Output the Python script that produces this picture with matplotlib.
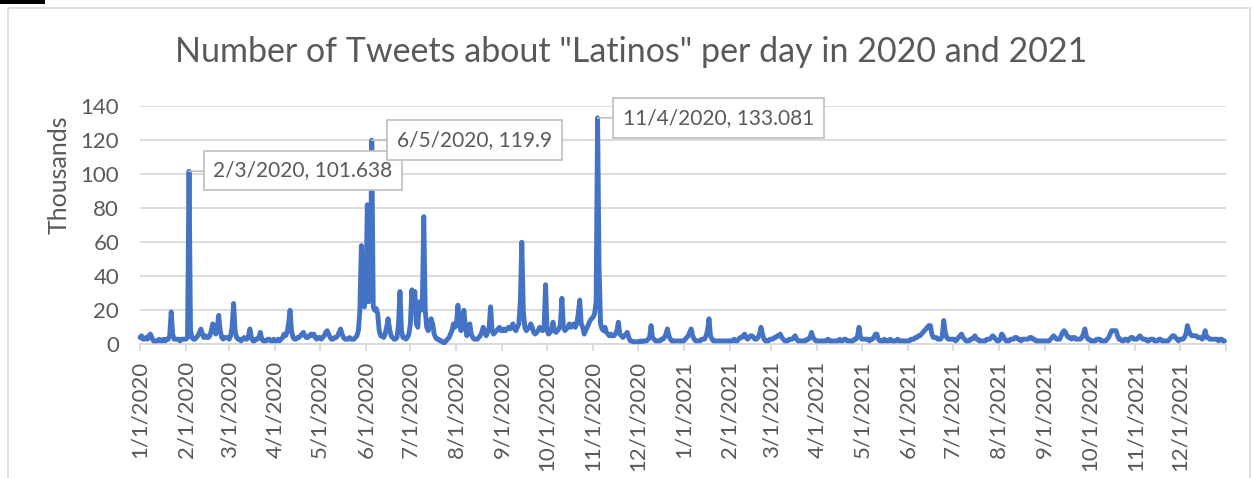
import matplotlib
matplotlib.use('Agg')
import matplotlib.pyplot as plt
import matplotlib.dates as mdates
from matplotlib.patches import Rectangle
import pandas as pd

# ---------------- data (thousands of tweets per day) ----------------
jan20 = [4, 5, 3, 3, 4, 3, 5, 6, 4, 2,
         2, 2, 2, 3, 2, 2, 3, 2, 3, 3,
         5, 19, 6, 3, 3, 3, 3, 2, 3, 3,
         3]
feb20 = [3, 4, 101.638, 8, 4, 3, 3, 4, 5, 7,
         9, 6, 4, 5, 4, 4, 5, 8, 12, 9,
         6, 10, 17, 8, 4, 3, 4, 4, 4]
mar20 = [3, 5, 10, 24, 8, 4, 3, 3, 2, 3,
         4, 3, 3, 5, 9, 4, 2, 2, 3, 3,
         4, 7, 3, 2, 2, 2, 3, 3, 2, 2,
         3]
apr20 = [2, 2, 3, 2, 3, 4, 6, 5, 7, 12,
         20, 8, 4, 3, 3, 4, 4, 5, 6, 7,
         5, 4, 4, 5, 6, 5, 6, 4, 3, 4]
may20 = [4, 3, 4, 5, 7, 8, 6, 4, 3, 3,
         4, 4, 5, 7, 9, 6, 4, 3, 3, 3,
         4, 3, 3, 3, 4, 5, 8, 20, 58, 24,
         22]
jun20 = [28, 82, 25, 28, 119.9, 22, 20, 21, 18, 8,
         5, 5, 4, 6, 10, 15, 9, 5, 4, 3,
         3, 4, 12, 31, 8, 4, 4, 3, 4, 6]
jul20 = [12, 32, 20, 31, 12, 10, 25, 20, 22, 75,
         20, 10, 8, 12, 15, 12, 6, 4, 3, 3,
         2, 2, 1, 1, 2, 3, 4, 6, 8, 12,
         10]
aug20 = [12, 23, 12, 8, 12, 20, 10, 5, 8, 12,
         6, 4, 3, 3, 3, 4, 5, 7, 10, 8,
         5, 7, 10, 22, 8, 6, 7, 8, 9, 10,
         8]
sep20 = [8, 9, 8, 9, 10, 9, 10, 12, 9, 8,
         10, 12, 25, 60, 20, 10, 8, 9, 10, 12,
         10, 7, 6, 7, 8, 10, 9, 8, 10, 35]
oct20 = [8, 6, 7, 8, 13, 8, 7, 8, 9, 12,
         27, 10, 8, 9, 10, 12, 10, 11, 12, 10,
         12, 18, 26, 12, 10, 6, 8, 10, 12, 14,
         15]
nov20 = [16, 18, 25, 133.081, 45, 12, 9, 8, 10, 7,
         6, 5, 6, 5, 5, 6, 8, 13, 6, 5,
         4, 5, 6, 7, 4, 2, 2, 1.5, 1.5, 1.5]
dec20 = [1.5, 1.5, 2, 1.5, 2, 2, 2, 3, 4, 11,
         4, 3, 2, 2, 2, 2, 3, 3, 4, 6,
         9, 5, 3, 2, 2, 2, 2, 2, 2, 2,
         2]
jan21 = [2, 3, 4, 5, 7, 9, 5, 3, 2, 2,
         2, 2, 3, 3, 3, 5, 8, 15, 5, 3,
         2, 2, 2, 2, 2, 2, 2, 2, 2, 2,
         2]
feb21 = [2, 2, 2, 3, 2, 2, 3, 4, 4, 5,
         6, 4, 3, 4, 5, 5, 4, 3, 3, 4,
         6, 10, 6, 3, 2, 2, 2, 3]
mar21 = [3, 3, 4, 4, 5, 5, 6, 4, 3, 2,
         2, 2, 3, 3, 3, 4, 5, 3, 2, 2,
         2, 2, 2, 2, 3, 3, 4, 7, 4, 3,
         2]
apr21 = [2, 2, 2, 2, 2, 2, 2, 3, 2, 2,
         2, 2, 2, 2, 2, 3, 2, 2, 3, 3,
         2, 2, 2, 2, 2, 3, 3, 5, 10, 4]
may21 = [3, 3, 3, 3, 3, 2, 3, 3, 4, 6,
         6, 3, 2, 2, 2, 3, 2, 2, 2, 3,
         2, 2, 2, 2, 3, 2, 2, 2, 2, 2,
         2]
jun21 = [2, 2, 3, 3, 3, 4, 4, 5, 5, 6,
         7, 8, 9, 10, 11, 11, 6, 4, 4, 4,
         3, 3, 3, 5, 14, 7, 4, 3, 3, 3]
jul21 = [3, 3, 2, 3, 4, 5, 6, 4, 3, 2,
         2, 2, 3, 3, 4, 5, 3, 3, 2, 2,
         2, 2, 2, 3, 3, 3, 4, 5, 4, 3,
         2]
aug21 = [2, 3, 6, 5, 3, 2, 2, 2, 3, 3,
         3, 4, 4, 3, 3, 2, 3, 3, 3, 3,
         3, 4, 4, 3, 3, 2, 2, 2, 2, 2,
         2]
sep21 = [2, 2, 2, 2, 3, 4, 5, 4, 3, 3,
         3, 5, 7, 8, 7, 5, 4, 4, 3, 4,
         4, 3, 3, 3, 3, 4, 6, 9, 5, 3]
oct21 = [3, 2, 2, 2, 2, 3, 3, 3, 2, 2,
         2, 2, 3, 4, 6, 8, 8, 8, 8, 5,
         3, 3, 2, 2, 3, 3, 2, 3, 4, 4,
         3]
nov21 = [3, 3, 4, 5, 4, 3, 3, 3, 2, 2,
         3, 3, 3, 2, 2, 2, 3, 3, 2, 2,
         2, 2, 2, 3, 4, 5, 5, 4, 3, 2]
dec21 = [3, 3, 3, 4, 6, 11, 8, 6, 5, 5,
         5, 5, 4, 4, 4, 3, 5, 8, 4, 4,
         3, 3, 3, 3, 3, 3, 2, 3, 3, 2,
         2]

start_date = '2020-01-01'
end_date = '2021-12-31'
annotated_dates = ['2020-02-03', '2020-06-05', '2020-11-04']

title = 'Number of Tweets about "Latinos" per day in 2020 and 2021'
y_label = 'Thousands'
y_ticks = [0, 20, 40, 60, 80, 100, 120, 140]

# ---------------- build series ----------------
values = (jan20 + feb20 + mar20 + apr20 + may20 + jun20 + jul20 + aug20 +
          sep20 + oct20 + nov20 + dec20 + jan21 + feb21 + mar21 + apr21 +
          may21 + jun21 + jul21 + aug21 + sep21 + oct21 + nov21 + dec21)
dates = pd.date_range(start_date, end_date, freq='D')
assert len(values) == len(dates)
series = pd.Series(values, index=dates)
xnum = mdates.date2num(dates.to_pydatetime())

plt.rcParams['font.family'] = ['Lato', 'DejaVu Sans']
TXT = '#595959'
GRID = '#D9D9D9'

W, H = 1253, 478
fig = plt.figure(figsize=(W / 100, H / 100), dpi=100)
ax_left, ax_right, ax_top, ax_bottom = 140, 1226, 106, 344.3
ax = fig.add_axes([ax_left / W, 1 - ax_bottom / H,
                   (ax_right - ax_left) / W, (ax_bottom - ax_top) / H])

ax.plot(xnum, series.values, color='#4472C4', lw=3.5,
        solid_joinstyle='round', solid_capstyle='round',
        clip_on=False, zorder=3)

ax.set_ylim(0, 140)
ax.set_yticks(y_ticks)
ax.set_yticklabels([str(t) for t in y_ticks])

tick_dates = pd.date_range('2020-01-01', '2022-01-01', freq='MS')
tick_labels = [f'{d.month}/{d.day}/{d.year}' for d in tick_dates[:-1]] + ['']
ax.set_xlim(mdates.date2num(tick_dates[0].to_pydatetime()),
            mdates.date2num(tick_dates[-1].to_pydatetime()))
ax.set_xticks(mdates.date2num(tick_dates.to_pydatetime()))
ax.set_xticklabels(tick_labels, rotation=90, va='top', ha='center')

for s in ['top', 'right', 'left']:
    ax.spines[s].set_visible(False)
ax.spines['bottom'].set_color(GRID)
ax.spines['bottom'].set_linewidth(1.3)
ax.grid(axis='y', color=GRID, lw=1.3)
ax.grid(axis='x', visible=False)
ax.set_axisbelow(True)
ax.tick_params(axis='y', length=0, pad=15, labelsize=16, labelcolor=TXT)
ax.tick_params(axis='x', length=5, color=GRID, width=1.3, pad=7,
               labelsize=16, labelcolor=TXT)

ax.set_ylabel(y_label, fontsize=18, color=TXT)
ax.yaxis.set_label_coords((71 - ax_left) / (ax_right - ax_left), 0.71)

fig.text(631 / W, 1 - 52 / H, title, ha='center', va='center',
         fontsize=24.5, color=TXT)

offsets = [(114, 1), (103, 0), (121, 0)]
for ds, off in zip(annotated_dates, offsets):
    ts = pd.Timestamp(ds)
    v = series[ts]
    label = f'{ts.month}/{ts.day}/{ts.year}, {v:g}'
    ax.annotate(label, xy=(mdates.date2num(ts.to_pydatetime()), v),
                xytext=off, textcoords='offset pixels',
                ha='center', va='center', fontsize=15, color=TXT,
                bbox=dict(boxstyle='square,pad=0.47', fc='white',
                          ec='#BFBFBF', lw=1.2),
                arrowprops=dict(arrowstyle='-', color='#BFBFBF', lw=1.2,
                                shrinkA=0, shrinkB=0),
                annotation_clip=False, zorder=5)

# chart frame and screenshot artefacts
fig.add_artist(Rectangle((8 / W, -0.01), (1250 - 8) / W, 1.01 - 8 / H,
                         transform=fig.transFigure, fill=False,
                         ec=GRID, lw=1.2))
fig.add_artist(Rectangle((0, 1 - 4 / H), 45 / W, 4 / H,
                         transform=fig.transFigure, fc='black', ec='none'))

fig.savefig('out.png', dpi=100)
